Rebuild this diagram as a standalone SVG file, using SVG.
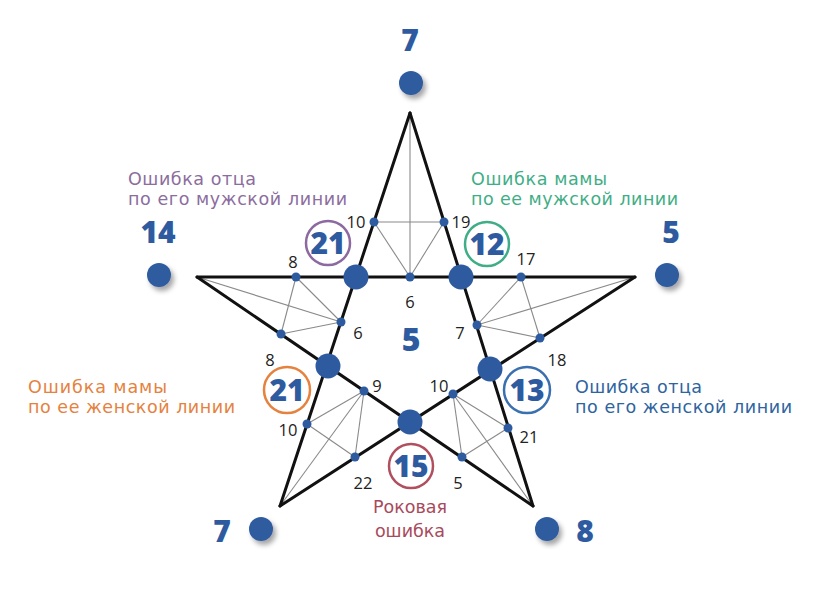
<svg xmlns="http://www.w3.org/2000/svg" width="828" height="599" viewBox="0 0 828 599">
<defs>
<filter id="sh" x="-60%" y="-60%" width="240%" height="240%">
<feDropShadow dx="3" dy="4" stdDeviation="2.5" flood-color="#000" flood-opacity="0.35"/>
</filter>
<style>
.star{stroke:#111;stroke-width:3;fill:none;stroke-linecap:round;stroke-linejoin:round}
.thin{stroke:#8a8a8a;stroke-width:1.1;fill:none}
.big{fill:#2e5b9f}
.sm{fill:#2e5b9f}
.odot{fill:#2e5b9f;filter:url(#sh)}
.lbl{font-family:"Open Sans","DejaVu Sans",sans-serif;font-size:16.5px;fill:#222;text-anchor:middle}
.num{font-family:"Open Sans","DejaVu Sans",sans-serif;font-weight:800;fill:#2e5b9f;text-anchor:middle}
.cap{font-family:"DejaVu Sans","Open Sans",sans-serif;font-size:17.5px}
.ring{fill:#fff;stroke-width:2.5}
</style>
</defs>
<rect width="828" height="599" fill="#fff"/>

<g id="connectors">
<g class="thin">
<line x1="410" y1="113" x2="410" y2="277"/>
<line x1="374" y1="222" x2="444" y2="222"/>
<line x1="374" y1="222" x2="410" y2="277"/>
<line x1="444" y1="222" x2="410" y2="277"/>
<line x1="197" y1="277" x2="341" y2="322"/>
<line x1="296" y1="277" x2="281" y2="334"/>
<line x1="296" y1="277" x2="341" y2="322"/>
<line x1="281" y1="334" x2="341" y2="322"/>
<line x1="635" y1="277" x2="477" y2="325"/>
<line x1="521" y1="277" x2="540" y2="338"/>
<line x1="521" y1="277" x2="477" y2="325"/>
<line x1="540" y1="338" x2="477" y2="325"/>
<line x1="280" y1="506" x2="364" y2="391"/>
<line x1="307" y1="424" x2="355" y2="457"/>
<line x1="364" y1="391" x2="307" y2="424"/>
<line x1="364" y1="391" x2="355" y2="457"/>
<line x1="533" y1="506" x2="453" y2="394"/>
<line x1="508" y1="428" x2="462" y2="457"/>
<line x1="453" y1="394" x2="508" y2="428"/>
<line x1="453" y1="394" x2="462" y2="457"/>
</g>
<g class="star">
<line x1="410" y1="113" x2="280" y2="506"/>
<line x1="410" y1="113" x2="533" y2="506"/>
<line x1="197" y1="277" x2="635" y2="277"/>
<line x1="197" y1="277" x2="533" y2="506"/>
<line x1="635" y1="277" x2="280" y2="506"/>
</g>
</g>

<g id="small-points">
<circle class="sm" cx="374" cy="222" r="4.5"/>
<circle class="sm" cx="444" cy="222" r="4.5"/>
<circle class="sm" cx="410" cy="277" r="4.5"/>
<circle class="sm" cx="296" cy="277" r="4.5"/>
<circle class="sm" cx="281" cy="334" r="4.5"/>
<circle class="sm" cx="341" cy="322" r="4.5"/>
<circle class="sm" cx="521" cy="277" r="4.5"/>
<circle class="sm" cx="540" cy="338" r="4.5"/>
<circle class="sm" cx="477" cy="325" r="4.5"/>
<circle class="sm" cx="364" cy="391" r="4.5"/>
<circle class="sm" cx="307" cy="424" r="4.5"/>
<circle class="sm" cx="355" cy="457" r="4.5"/>
<circle class="sm" cx="453" cy="394" r="4.5"/>
<circle class="sm" cx="508" cy="428" r="4.5"/>
<circle class="sm" cx="462" cy="457" r="4.5"/>
</g>

<g id="small-labels">
<text class="lbl" x="356" y="228">10</text>
<text class="lbl" x="461" y="228">19</text>
<text class="lbl" x="410" y="308">6</text>
<text class="lbl" x="293" y="268">8</text>
<text class="lbl" x="358" y="339">6</text>
<text class="lbl" x="270" y="366">8</text>
<text class="lbl" x="526" y="265">17</text>
<text class="lbl" x="460" y="339">7</text>
<text class="lbl" x="557" y="366">18</text>
<text class="lbl" x="377" y="392">9</text>
<text class="lbl" x="288" y="436">10</text>
<text class="lbl" x="363" y="489">22</text>
<text class="lbl" x="439" y="392">10</text>
<text class="lbl" x="529" y="443">21</text>
<text class="lbl" x="458" y="489">5</text>
</g>

<g id="inner-vertices">
<circle class="big" cx="356" cy="277" r="12.5"/>
<circle class="big" cx="461" cy="277" r="12.5"/>
<circle class="big" cx="328" cy="366" r="12.5"/>
<circle class="big" cx="490" cy="369" r="12.5"/>
<circle class="big" cx="410" cy="422" r="12.5"/>
</g>

<g id="center">
<text class="num" x="411" y="351" font-size="32">5</text>
</g>

<g id="node-top">
<text class="num" x="410" y="51" font-size="30">7</text>
<circle class="odot" cx="411" cy="83" r="12"/>
</g>
<g id="node-left">
<text class="num" x="158" y="243" font-size="30">14</text>
<circle class="odot" cx="159" cy="275" r="12"/>
</g>
<g id="node-right">
<text class="num" x="671" y="243" font-size="30">5</text>
<circle class="odot" cx="667" cy="275" r="12"/>
</g>
<g id="node-bottom-left">
<text class="num" x="222" y="542" font-size="30">7</text>
<circle class="odot" cx="261" cy="529" r="12"/>
</g>
<g id="node-bottom-right">
<text class="num" x="585" y="542" font-size="30">8</text>
<circle class="odot" cx="547" cy="529" r="12"/>
</g>

<g id="ring-father-male">
<circle class="ring" cx="328" cy="243" r="22" stroke="#8c6aa0"/>
<text class="num" x="328" y="254" font-size="30">21</text>
<text class="cap" fill="#8c6d9e" x="128" y="185" textLength="128">Ошибка отца</text>
<text class="cap" fill="#8c6d9e" x="128" y="205" textLength="219">по его мужской линии</text>
</g>
<g id="ring-mother-male">
<circle class="ring" cx="487" cy="244" r="22" stroke="#3fae86"/>
<text class="num" x="487" y="255" font-size="30">12</text>
<text class="cap" fill="#3fae86" x="471" y="185" textLength="136">Ошибка мамы</text>
<text class="cap" fill="#3fae86" x="471" y="205" textLength="207">по ее мужской линии</text>
</g>
<g id="ring-mother-female">
<circle class="ring" cx="287" cy="390" r="23" stroke="#e5823e"/>
<text class="num" x="287" y="401" font-size="30">21</text>
<text class="cap" fill="#e5823e" x="28" y="393" textLength="139">Ошибка мамы</text>
<text class="cap" fill="#e5823e" x="28" y="413" textLength="207">по ее женской линии</text>
</g>
<g id="ring-father-female">
<circle class="ring" cx="527" cy="390" r="23" stroke="#3a6fb0"/>
<text class="num" x="527" y="401" font-size="30">13</text>
<text class="cap" fill="#2e64a0" x="575" y="393" textLength="127">Ошибка отца</text>
<text class="cap" fill="#2e64a0" x="575" y="413" textLength="217">по его женской линии</text>
</g>
<g id="ring-fatal">
<circle class="ring" cx="411" cy="466" r="22" stroke="#b0505f"/>
<text class="num" x="411" y="477" font-size="30">15</text>
<text class="cap" fill="#a84a5c" x="410" y="513" text-anchor="middle" font-size="18">Роковая</text>
<text class="cap" fill="#a84a5c" x="410" y="537" text-anchor="middle" font-size="18">ошибка</text>
</g>
</svg>
